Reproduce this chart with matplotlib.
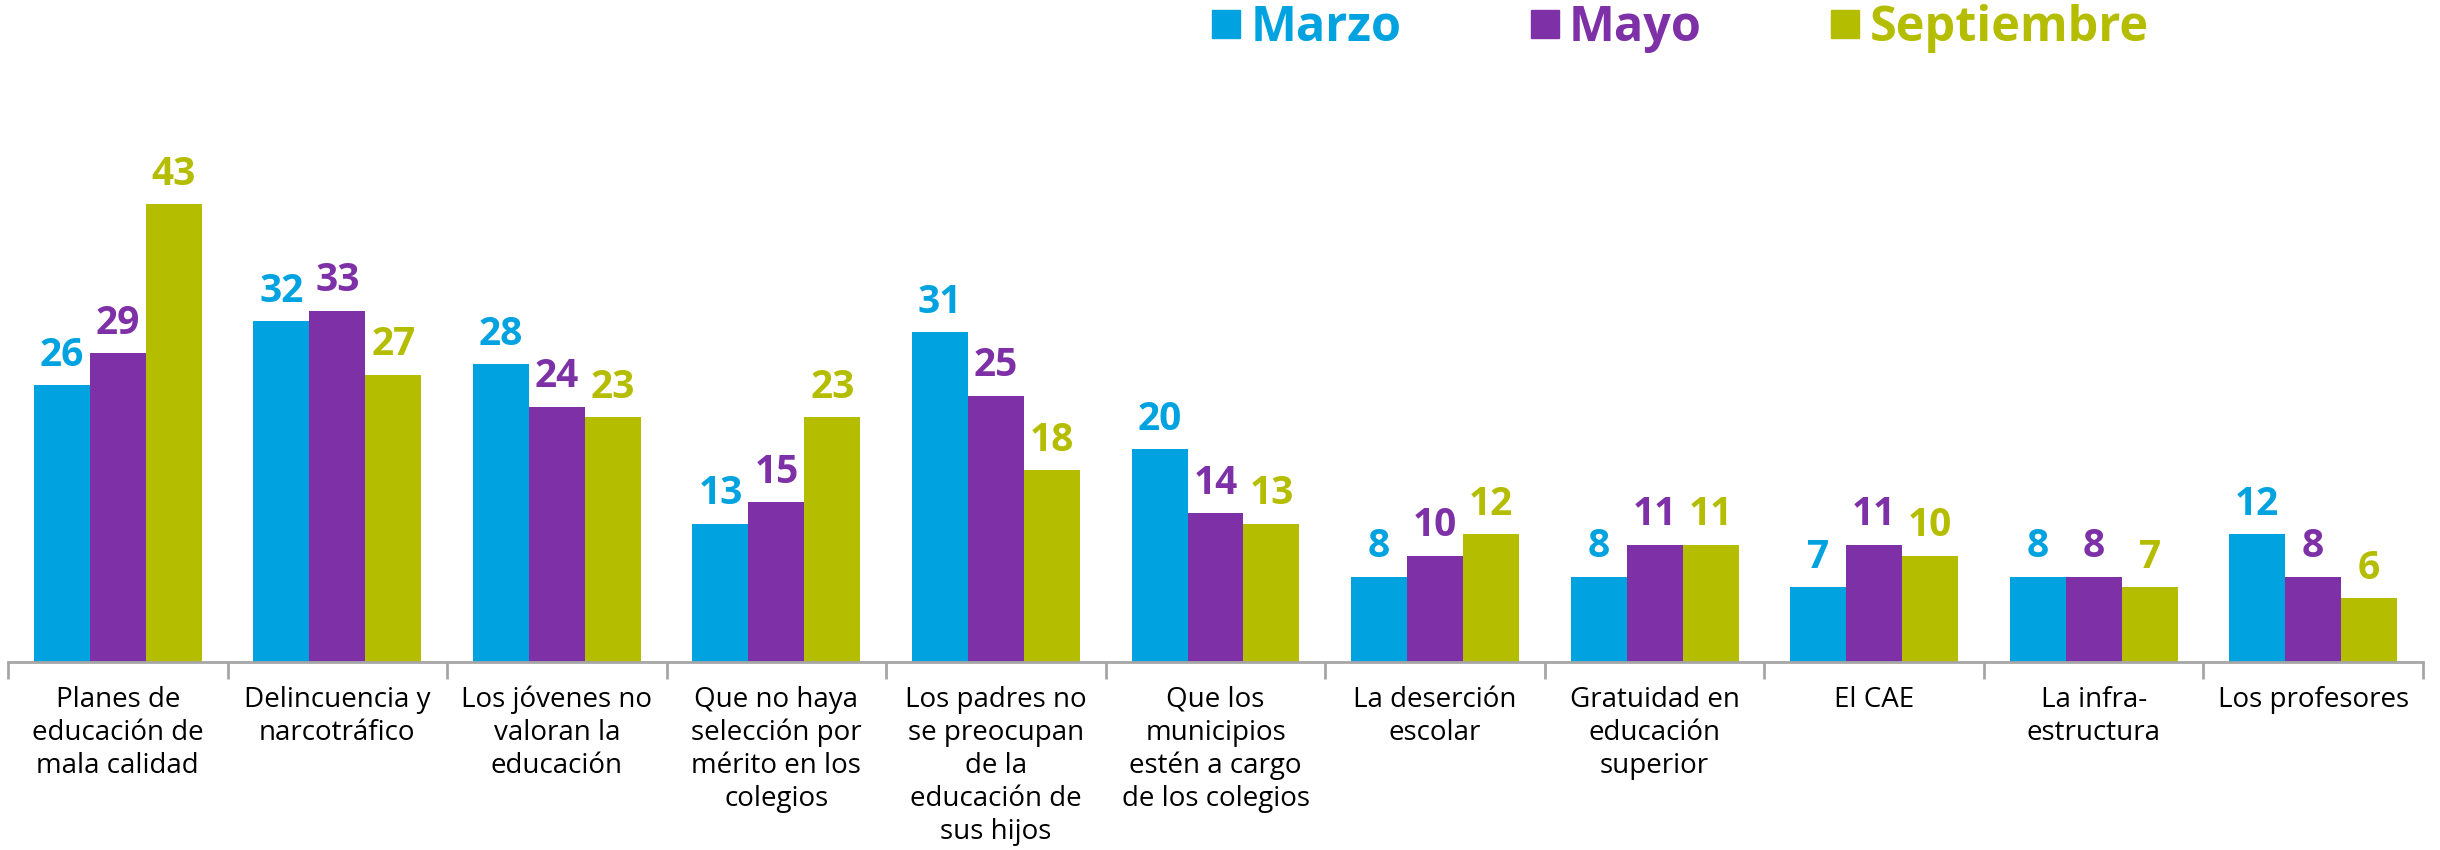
import numpy as np
import matplotlib
matplotlib.use("Agg")
import matplotlib.pyplot as plt
from matplotlib.lines import Line2D

plt.rcParams['font.family'] = ['Open Sans', 'DejaVu Sans']

categories = [
    "Planes de\neducación de\nmala calidad",
    "Delincuencia y\nnarcotráfico",
    "Los jóvenes no\nvaloran la\neducación",
    "Que no haya\nselección por\nmérito en los\ncolegios",
    "Los padres no\nse preocupan\nde la\neducación de\nsus hijos",
    "Que los\nmunicipios\nestén a cargo\nde los colegios",
    "La deserción\nescolar",
    "Gratuidad en\neducación\nsuperior",
    "El CAE",
    "La infra-\nestructura",
    "Los profesores",
]
series_names = ["Marzo", "Mayo", "Septiembre"]
marzo = [26, 32, 28, 13, 31, 20, 8, 8, 7, 8, 12]
mayo = [29, 33, 24, 15, 25, 14, 10, 11, 11, 8, 8]
septiembre = [43, 27, 23, 23, 18, 13, 12, 11, 10, 7, 6]

colors = ['#00A3E0', '#7E30A7', '#B5BD00']
all_series = [marzo, mayo, septiembre]

fig = plt.figure(figsize=(24.4, 8.5), dpi=100)
ax = fig.add_axes([8/2440, 1 - 662/850, 2415/2440, 662/850])

x = np.arange(len(categories))
w = 0.255
for i, (vals, col) in enumerate(zip(all_series, colors)):
    pos = x + (i - 1) * w
    ax.bar(pos, vals, width=w, color=col, edgecolor='none')
    for xp, v in zip(pos, vals):
        ax.annotate(str(v), (xp, v), xytext=(0, 14), textcoords='offset points',
                    ha='center', va='baseline', fontsize=28, fontweight='bold', color=col)

ax.set_xlim(-0.5, len(categories) - 0.5)
ax.set_ylim(0, 62.2)

for s in ['top', 'right', 'left']:
    ax.spines[s].set_visible(False)
ax.spines['bottom'].set_color('#A6A6A6')
ax.spines['bottom'].set_linewidth(2)
ax.set_yticks([])

ax.set_xticks(x)
ax.set_xticklabels(categories, fontsize=20, linespacing=1.24, va='top')
ax.tick_params(axis='x', which='major', length=0, pad=17, colors='#000000')
ax.set_xticks(np.arange(-0.5, len(categories)), minor=True)
ax.tick_params(axis='x', which='minor', length=12, width=2, color='#A6A6A6', direction='out')

handles = [Line2D([], [], marker='s', linestyle='none', markersize=20,
                  markerfacecolor=c, markeredgecolor=c) for c in colors]
leg = fig.legend(handles, series_names, loc='center', bbox_to_anchor=(0.688, 0.967),
                 ncol=3, frameon=False, labelcolor='markerfacecolor',
                 prop={'size': 35, 'weight': 'bold'}, handletextpad=0.15,
                 columnspacing=2.6, handlelength=0.7)

fig.savefig('out.png', dpi=100)
